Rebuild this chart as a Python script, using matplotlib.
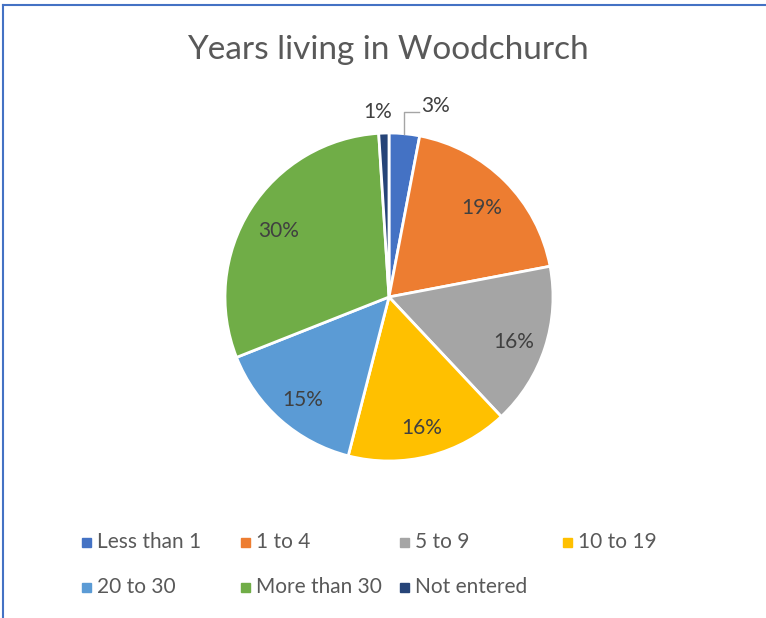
import numpy as np
import matplotlib
matplotlib.use("Agg")
from matplotlib import pyplot as plt
from matplotlib.patches import Rectangle
from matplotlib.lines import Line2D

# Data
categories = ["Less than 1", "1 to 4", "5 to 9", "10 to 19", "20 to 30", "More than 30", "Not entered"]
shares = [3, 19, 16, 16, 15, 30, 1]
colors = ["#4472C4", "#ED7D31", "#A5A5A5", "#FFC000", "#5B9BD5", "#70AD47", "#264478"]
title = "Years living in Woodchurch"

FONT = "Lato"
W, H = 766, 618

fig = plt.figure(figsize=(W / 100, H / 100), dpi=100)

# frame lines (top and left only are visible)
fig.add_artist(Line2D([0.004, 0.004], [0, 0.992], transform=fig.transFigure, color="#4472C4", lw=1.5))
fig.add_artist(Line2D([0.004, 1], [0.992, 0.992], transform=fig.transFigure, color="#4472C4", lw=1.5))

# pie axes: centre (389, 297) px, radius 164 px
R = 164
lim = 1.25
side = 2 * lim * R
ax = fig.add_axes([(389 - side / 2) / W, (H - 297 - side / 2) / H, side / W, side / H])
ax.set_xlim(-lim, lim)
ax.set_ylim(-lim, lim)
ax.set_aspect("equal")
ax.axis("off")

wedges, _ = ax.pie(shares, colors=colors, startangle=90, counterclock=False,
                   wedgeprops=dict(edgecolor="white", linewidth=2))

label_col = "#404040"
for w, v in zip(wedges, shares):
    mid = np.deg2rad((w.theta1 + w.theta2) / 2)
    cx, cy = np.cos(mid), np.sin(mid)
    if v >= 5:
        ax.text(0.8 * cx, 0.8 * cy - 0.025, f"{v}%", ha="center", va="center",
                fontsize=15, color=label_col, family=FONT)
    elif v == 3:
        ax.plot([cx, cx, cx + 0.09], [cy, 1.128, 1.128], color="#A5A5A5", lw=1)
        ax.text(cx + 0.1, 1.165, f"{v}%", ha="left", va="center",
                fontsize=15, color=label_col, family=FONT)
    else:
        ax.text(cx - 0.04, 1.125, f"{v}%", ha="center", va="center",
                fontsize=15, color=label_col, family=FONT)

fig.text(388 / W, 1 - 50 / H, title, ha="center", va="center",
         fontsize=24, color="#595959", family=FONT)

# legend, 4 columns x 2 rows
col_x = [86, 245, 404, 567]
row_y = [542, 587]
for i, (lab, c) in enumerate(zip(categories, colors)):
    x = col_x[i % 4]
    y = row_y[i // 4]
    fig.add_artist(Rectangle(((x - 4.5) / W, 1 - (y + 4.5) / H), 9 / W, 9 / H,
                             transform=fig.transFigure, color=c))
    fig.text((x + 11) / W, 1 - y / H, lab, ha="left", va="center",
             fontsize=15, color="#595959", family=FONT)

fig.savefig("out.png", dpi=100)
